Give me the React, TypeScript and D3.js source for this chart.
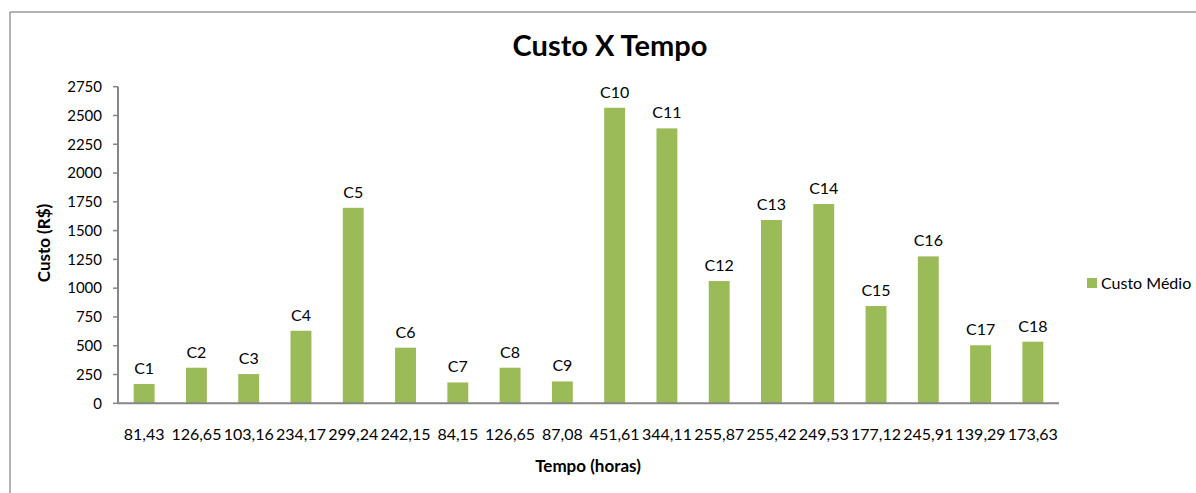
import React from "react";
import * as d3 from "d3";

const categories = ["81,43","126,65","103,16","234,17","299,24","242,15","84,15","126,65","87,08","451,61","344,11","255,87","255,42","249,53","177,12","245,91","139,29","173,63"];
const labels = ["C1","C2","C3","C4","C5","C6","C7","C8","C9","C10","C11","C12","C13","C14","C15","C16","C17","C18"];
const custoMedio = [168,309,254,630,1698,483,181,309,190,2567,2388,1062,1592,1731,845,1276,504,535];
const yTicks = [0,250,500,750,1000,1250,1500,1750,2000,2250,2500,2750];

const W = 1196, H = 493;
const FONT = "Lato, 'Open Sans', sans-serif";

export default function App() {
  const x0 = 118, x1 = 1059, yTop = 86.7, yBot = 403.3;
  const idx = categories.map((_, i) => String(i));
  const x = d3.scaleBand<string>().domain(idx).range([x0, x1]).paddingInner(0.6).paddingOuter(0.3);
  const y = d3.scaleLinear().domain([0, 2750]).range([yBot, yTop]);
  const band = (x1 - x0) / categories.length;
  return (
    <svg width={W} height={H} style={{ position: "absolute", left: 0, top: 0, background: "#fff" }} fontFamily={FONT}>
      <rect x={0} y={0} width={W} height={H} fill="#fff" />
      <line x1={10} y1={12} x2={W} y2={12} stroke="#999" strokeWidth={1.5} />
      <line x1={10} y1={12} x2={10} y2={H} stroke="#999" strokeWidth={1.5} />
      <text x={610} y={56} textAnchor="middle" fontSize={29} fontWeight="bold" fill="#000">Custo X Tempo</text>
      {/* y axis */}
      <line x1={x0} y1={yTop} x2={x0} y2={yBot} stroke="#868686" strokeWidth={2} />
      {yTicks.map(t => (
        <g key={t}>
          <line x1={x0 - 5} x2={x0} y1={y(t)} y2={y(t)} stroke="#868686" strokeWidth={1.5} />
          <text x={x0 - 16} y={y(t)} dy="0.35em" textAnchor="end" fontSize={15} fill="#000">{t}</text>
        </g>
      ))}
      {/* bars */}
      {custoMedio.map((v, i) => {
        const bx = (x(String(i)) as number);
        const bw = x.bandwidth();
        return (
          <g key={i}>
            <rect x={bx} y={y(v)} width={bw} height={yBot - y(v)} fill="#9BBB59" />
            <text x={bx + bw / 2} y={y(v) - 10} textAnchor="middle" fontSize={16} fill="#000">{labels[i]}</text>
            <text x={x0 + band * (i + 0.5)} y={440} textAnchor="middle" fontSize={16} fill="#000">{categories[i]}</text>
          </g>
        );
      })}
      <line x1={x0} y1={yBot} x2={x1} y2={yBot} stroke="#868686" strokeWidth={2} />
      <text x={588} y={472} textAnchor="middle" fontSize={17} fontWeight="bold" fill="#000">Tempo (horas)</text>
      <text transform={`translate(50,243) rotate(-90)`} textAnchor="middle" fontSize={17} fontWeight="bold" fill="#000">Custo  (R$)</text>
      {/* legend */}
      <rect x={1087} y={278} width={10} height={10} fill="#9BBB59" />
      <text x={1101} y={289} fontSize={16} fill="#000">Custo Médio</text>
    </svg>
  );
}
